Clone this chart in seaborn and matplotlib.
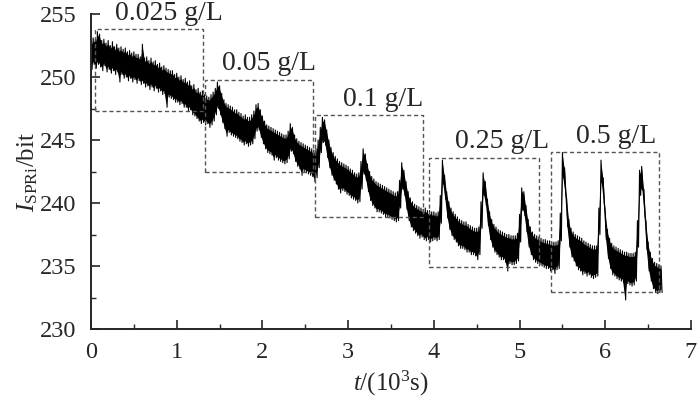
import numpy as np
import pandas as pd
import seaborn as sns
import matplotlib.pyplot as plt
from matplotlib.patches import Rectangle

# sampling grid of the trace (10^3 s), one reading every 0.025
t = np.round(np.arange(0, 6.651, 0.025), 3)

# upper and lower edge of the noisy SPRi trace
hi = [
    252.8, 253.1, 253.0, 253.6, 253.4, 252.9, 253.0, 252.7, 252.9, 252.5,
    252.8, 252.4, 252.6, 252.3, 252.4, 252.2, 252.3, 252.0, 252.1, 251.9,
    252.0, 251.8, 251.8, 251.6, 252.6, 251.5, 251.6, 251.3, 251.5, 251.2,
    251.3, 251.0, 251.1, 250.8, 250.9, 250.7, 250.6, 250.5, 250.5, 250.2,
    250.3, 250.0, 250.1, 249.8, 249.9, 249.6, 249.7, 249.3, 249.4, 249.0,
    249.1, 248.8, 248.9, 248.6, 248.5, 248.4, 248.6, 248.8, 249.1, 249.6,
    249.3, 248.7, 248.2, 247.9, 247.8, 247.7, 247.6, 247.4, 247.4, 247.2,
    247.1, 246.9, 247.0, 246.8, 246.8, 247.0, 247.3, 247.8, 247.9, 247.4,
    246.9, 246.5, 246.2, 246.1, 246.0, 245.9, 245.8, 245.7, 245.6, 245.5,
    245.4, 245.4, 245.7, 246.3, 246.0, 245.4, 245.1, 244.9, 244.8, 244.7,
    244.6, 244.5, 244.4, 244.3, 244.2, 244.3, 245.0, 246.0, 246.8, 246.6,
    245.8, 245.0, 244.4, 244.0, 243.7, 243.5, 243.3, 243.2, 243.1, 243.0,
    242.9, 242.7, 242.6, 242.4, 242.3, 242.4, 243.3, 244.3, 243.9, 243.1,
    242.5, 242.1, 241.9, 241.7, 241.6, 241.5, 241.4, 241.3, 241.2, 241.1,
    241.0, 240.9, 240.8, 240.9, 241.8, 243.2, 242.6, 241.7, 240.9, 240.4,
    240.1, 239.9, 239.8, 239.7, 239.6, 239.5, 239.6, 239.4, 239.4, 239.3,
    239.3, 239.2, 239.3, 240.6, 243.4, 242.2, 240.9, 240.1, 239.6, 239.3,
    239.1, 238.9, 238.7, 238.6, 238.5, 238.5, 238.3, 238.2, 238.1, 238.0,
    238.0, 238.1, 240.1, 242.4, 241.7, 240.3, 239.3, 238.7, 238.3, 238.1,
    237.9, 237.8, 237.7, 237.6, 237.5, 237.5, 237.4, 237.4, 237.4, 237.6,
    239.1, 241.2, 240.9, 239.8, 238.7, 238.1, 237.7, 237.5, 237.4, 237.3,
    237.2, 237.1, 237.1, 237.0, 237.0, 236.9, 236.9, 236.9, 237.0, 239.2,
    244.0, 242.8, 240.3, 238.7, 238.0, 237.7, 237.5, 237.4, 237.3, 237.2,
    237.0, 236.9, 236.8, 236.7, 236.6, 236.6, 236.6, 239.6, 243.4, 242.0,
    239.3, 237.9, 237.2, 236.8, 236.6, 236.5, 236.4, 236.3, 236.2, 236.1,
    236.1, 236.0, 236.0, 236.0, 236.1, 238.6, 242.6, 242.9, 241.1, 238.5,
    236.9, 236.1, 235.6, 235.3, 235.2, 235.1, 235.0,
]
lo = [
    250.6, 251.0, 250.7, 251.0, 250.8, 250.5, 250.9, 250.4, 250.6, 250.3,
    250.5, 250.2, 250.4, 249.6, 250.2, 249.9, 250.0, 249.7, 249.9, 249.6,
    249.8, 249.5, 249.7, 249.4, 249.5, 249.2, 249.3, 249.0, 249.2, 248.9,
    249.1, 248.8, 248.9, 248.6, 248.7, 247.6, 248.4, 248.3, 248.2, 248.0,
    248.0, 247.8, 247.9, 247.6, 247.6, 247.3, 247.4, 247.0, 246.9, 246.7,
    246.5, 246.3, 246.4, 246.2, 246.3, 246.0, 246.2, 246.5, 247.0, 247.5,
    247.0, 246.4, 245.9, 245.3, 245.6, 245.4, 245.3, 245.2, 245.1, 244.9,
    244.8, 244.6, 244.7, 244.5, 244.6, 244.7, 245.1, 245.7, 245.8, 245.2,
    244.7, 244.3, 244.0, 243.9, 243.8, 243.4, 243.6, 243.4, 243.3, 243.2,
    243.1, 243.2, 243.5, 244.1, 243.9, 243.3, 242.9, 242.7, 242.2, 242.5,
    242.4, 242.3, 242.2, 242.1, 241.7, 242.0, 242.8, 244.0, 244.8, 244.6,
    243.6, 242.8, 242.2, 241.8, 241.5, 241.1, 240.8, 241.0, 240.9, 240.7,
    240.6, 240.4, 240.3, 240.2, 240.0, 240.1, 241.1, 242.3, 241.8, 240.9,
    240.2, 239.8, 239.6, 239.3, 239.3, 239.2, 239.1, 238.9, 238.9, 238.8,
    238.7, 238.6, 238.5, 238.6, 239.6, 241.1, 240.6, 239.5, 238.6, 238.1,
    237.8, 237.6, 237.4, 237.2, 237.3, 237.1, 237.0, 237.1, 236.9, 237.0,
    237.1, 237.0, 237.1, 238.4, 241.5, 240.3, 238.8, 237.9, 237.4, 237.1,
    236.9, 236.6, 236.4, 236.4, 236.3, 236.1, 236.1, 235.9, 235.9, 235.8,
    235.5, 235.9, 238.0, 240.6, 239.8, 238.2, 237.1, 236.5, 236.1, 235.9,
    235.7, 235.5, 235.5, 235.3, 234.6, 235.2, 235.1, 235.1, 235.2, 235.4,
    236.9, 239.4, 239.0, 237.7, 236.5, 235.9, 235.5, 235.3, 235.2, 235.1,
    235.0, 234.9, 234.8, 234.8, 234.6, 234.7, 234.4, 234.7, 234.8, 237.0,
    242.0, 240.8, 238.1, 236.5, 235.7, 235.4, 235.0, 234.7, 234.6, 234.3,
    234.4, 234.2, 234.3, 234.1, 234.0, 234.1, 234.2, 237.5, 241.6, 240.0,
    237.1, 235.6, 234.8, 234.3, 234.2, 234.0, 233.9, 233.8, 233.7, 232.3,
    233.6, 233.5, 233.4, 233.5, 233.8, 236.5, 240.6, 241.0, 239.0, 236.3,
    234.6, 233.8, 233.2, 232.9, 232.8, 232.9, 232.9,
]

# dashed boxes around each concentration
conc = ["0.025 g/L", "0.05 g/L", "0.1 g/L", "0.25 g/L", "0.5 g/L"]
box_t0 = [0.05, 1.33, 2.61, 3.94, 5.37]
box_t1 = [1.31, 2.59, 3.87, 5.23, 6.63]
box_lo = [247.3, 242.5, 238.9, 234.9, 232.9]
box_hi = [253.8, 249.8, 247.0, 243.6, 244.05]
lab_t = [0.91, 2.08, 3.41, 4.80, 6.13]

# zigzag between the two edges so the trace looks like the raw noisy signal
tz = np.column_stack([t, t + 0.0125]).ravel()
yz = np.column_stack([hi, lo]).ravel()
df = pd.DataFrame({"t": tz, "I": yz})

sns.set_style("ticks")
plt.rcParams["font.family"] = ["Liberation Serif", "DejaVu Serif"]
plt.rcParams["mathtext.fontset"] = "custom"
plt.rcParams["mathtext.rm"] = "Liberation Serif"
plt.rcParams["mathtext.it"] = "Liberation Serif:italic"

fig = plt.figure(figsize=(7, 3.99), dpi=100)
ax = fig.add_axes([91 / 700, 1 - 329 / 399, 600 / 700, 315 / 399])

# solid core of the noise band, then the raw zigzag on top for the ragged edge
ax.fill_between(t, np.array(lo) + 0.25, np.array(hi) - 0.25, color="black", lw=0)
sns.lineplot(data=df, x="t", y="I", ax=ax, color="black", lw=0.8,
             estimator=None, sort=False)

for name, a, b, y0, y1, lt in zip(conc, box_t0, box_t1, box_lo, box_hi, lab_t):
    ax.add_patch(Rectangle((a, y0), b - a, y1 - y0, fill=False, ls=(0, (3, 2)),
                           lw=1.0, ec="#555555", zorder=3))
    ax.text(lt, y1 + 0.25, name, ha="center", va="bottom", fontsize=20,
            clip_on=False)

ax.set_xlim(0, 7)
ax.set_ylim(230, 255)
ax.set_xticks(range(0, 8))
ax.set_yticks(range(230, 256, 5))
ax.set_xticks(np.arange(0.5, 7, 1), minor=True)
ax.set_yticks(np.arange(232.5, 255, 5), minor=True)
ax.tick_params(which="major", direction="in", length=6.5, width=1.2,
               labelsize=17.5)
ax.tick_params(axis="x", which="major", pad=9.5)
ax.tick_params(axis="y", which="major", pad=10.5)
ax.tick_params(which="minor", direction="in", length=3.6, width=1.0)
for s in ["left", "bottom"]:
    ax.spines[s].set_linewidth(1.4)
sns.despine(ax=ax)

ax.set_xlabel(r"$\mathit{t}$/(10$^3$s)", fontsize=18, labelpad=4)
ax.set_ylabel(r"$\mathit{I}_{\mathrm{SPRi}}$/bit", fontsize=18, labelpad=0)

plt.savefig("out.png", dpi=100)
